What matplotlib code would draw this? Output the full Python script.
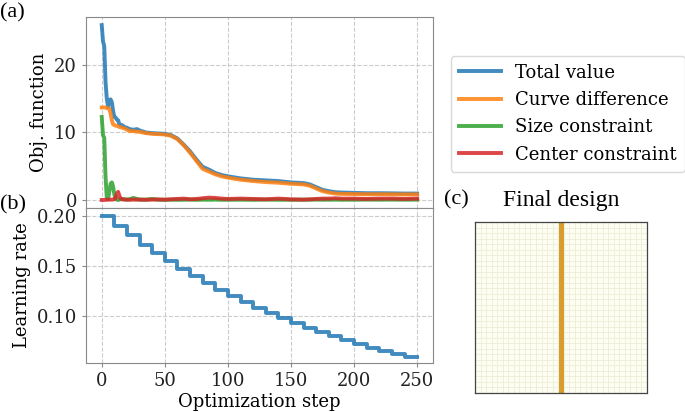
import numpy as np
import matplotlib
matplotlib.use("Agg")
import matplotlib.pyplot as plt
from matplotlib.colors import LinearSegmentedColormap

# ---------------- data ----------------
steps_obj = [0, 1, 2, 3, 4, 5, 6, 7, 8, 9, 10, 11, 12, 13, 14, 15, 16, 18, 20, 22, 25, 28, 30,
             35, 40, 45, 50, 55, 60, 65, 70, 75, 80, 85, 90, 95, 100, 110, 120, 130, 140, 150,
             160, 165, 170, 175, 180, 185, 190, 200, 210, 220, 230, 240, 250]
total_value = [25.9, 23.5, 22.8, 17.5, 15.0, 13.8, 14.8, 14.9, 14.5, 13.2, 12.3, 12.2, 11.9, 11.8,
               11.2, 11.0, 11.1, 10.8, 10.7, 10.5, 10.4, 10.5, 10.3, 10.0, 9.9, 9.85, 9.8, 9.6,
               9.1, 8.2, 7.2, 6.0, 4.9, 4.5, 4.0, 3.7, 3.5, 3.2, 3.0, 2.9, 2.8, 2.6, 2.5, 2.3,
               1.9, 1.5, 1.3, 1.15, 1.1, 1.05, 1.0, 1.0, 0.98, 0.95, 0.95]
curve_difference = [13.7, 13.7, 13.7, 13.7, 13.6, 13.6, 13.5, 12.8, 11.8, 11.2, 11.1, 11.0, 11.0,
                    10.9, 10.8, 10.8, 10.7, 10.6, 10.4, 10.2, 10.2, 10.1, 10.1, 9.9, 9.8, 9.75,
                    9.7, 9.5, 9.0, 8.1, 7.0, 5.8, 4.6, 4.2, 3.8, 3.5, 3.3, 3.0, 2.8, 2.65, 2.55,
                    2.4, 2.3, 2.1, 1.7, 1.3, 1.1, 0.95, 0.9, 0.87, 0.85, 0.85, 0.83, 0.82, 0.82]
size_constraint = [12.3, 9.6, 9.2, 3.5, 0.3, 0.1, 1.2, 2.4, 2.6, 2.0, 0.8, 0.2, 0.05, 0.0, 0.05,
                   0.1, 0.15, 0.1, 0.05, 0.1, 0.3, 0.15, 0.05, 0.05, 0.15, 0.03, 0.02, 0.04, 0.02,
                   0.03, 0.05, 0.02, 0.04, 0.03, 0.05, 0.02, 0.03, 0.04, 0.02, 0.05, 0.03, 0.02,
                   0.04, 0.03, 0.05, 0.03, 0.04, 0.05, 0.03, 0.04, 0.05, 0.04, 0.05, 0.04, 0.05]
center_constraint = [0.0, 0.0, 0.0, 0.02, 0.03, 0.05, 0.05, 0.05, 0.05, 0.08, 0.1, 0.3, 0.9, 1.2,
                     0.6, 0.2, 0.1, 0.05, 0.05, 0.03, 0.05, 0.04, 0.05, 0.03, 0.05, 0.08, 0.05,
                     0.1, 0.15, 0.2, 0.1, 0.15, 0.25, 0.35, 0.3, 0.2, 0.15, 0.2, 0.15, 0.1, 0.2,
                     0.1, 0.05, 0.1, 0.15, 0.2, 0.2, 0.25, 0.2, 0.2, 0.15, 0.2, 0.2, 0.15, 0.2]

lr_steps = [0, 10, 20, 30, 40, 50, 60, 70, 80, 90, 100, 110, 120, 130, 140, 150, 160, 170, 180,
            190, 200, 210, 220, 230, 240, 250]
learning_rate = [0.200, 0.190, 0.181, 0.171, 0.163, 0.155, 0.147, 0.140, 0.133, 0.126, 0.120,
                 0.114, 0.108, 0.103, 0.098, 0.093, 0.088, 0.084, 0.080, 0.076, 0.072, 0.068,
                 0.065, 0.062, 0.059, 0.059]

series_labels = ["Total value", "Curve difference", "Size constraint", "Center constraint"]
series_colors = ["#1f77b4", "#ff7f0e", "#2ca02c", "#d62728"]

design_size = 31
design_column = 15

# ---------------- figure ----------------
plt.rcParams['font.family'] = 'DejaVu Serif'
plt.rcParams['font.size'] = 13

fig = plt.figure(figsize=(6.85, 4.12), dpi=100)

ax1 = fig.add_axes([0.1255, 0.495, 0.5065, 0.4637])
ax2 = fig.add_axes([0.1255, 0.119, 0.5065, 0.376], sharex=ax1)

spine_col = "#8a8a8a"
for ax in (ax1, ax2):
    for s in ax.spines.values():
        s.set_color(spine_col)
    ax.grid(True, linestyle='--', color='#cccccc', linewidth=0.8)
    ax.set_axisbelow(True)
    ax.tick_params(colors='#222222', labelsize=13, length=3, color=spine_col)

all_series = [total_value, curve_difference, size_constraint, center_constraint]
handles = []
for vals, lab, col in zip(all_series, series_labels, series_colors):
    h, = ax1.plot(steps_obj, vals, color=col, lw=2.8, alpha=0.85, label=lab)
    handles.append(h)
ax1.set_ylabel("Obj. function", fontsize=13)
ax1.set_yticks([0, 10, 20])
ax1.tick_params(axis='x', labelbottom=False, length=0)

ax2.step(lr_steps, learning_rate, where='post', color=series_colors[0], lw=2.8, alpha=0.85)
ax2.set_yticks([0.10, 0.15, 0.20])
ax2.set_ylabel("Learning rate", fontsize=13)
ax2.set_xlabel("Optimization step", fontsize=13, labelpad=2)
ax2.set_xticks([0, 50, 100, 150, 200, 250])
ax2.set_xlim(-12.5, 262.5)
ax2.set_ylim(0.0527, 0.2077)
ax1.set_ylim(-1.2, 27.1)

leg = fig.legend(handles=handles, labels=series_labels, loc='center left',
                 bbox_to_anchor=(0.645, 0.724), fontsize=13, frameon=True,
                 handlelength=2.3, borderpad=0.45, labelspacing=0.52)
leg.get_frame().set_edgecolor('#d0d0d0')

# Final design panel
ax3 = fig.add_axes([0.6934, 0.0461, 0.2511, 0.4151])
background = np.zeros((design_size, design_size))
design = np.full((design_size, design_size), np.nan)
design[:, design_column] = 1.0
cmap = LinearSegmentedColormap.from_list("design", ["#fdfdf1", "#d99c2e"])
ax3.imshow(background, cmap=cmap, vmin=0, vmax=1, aspect='auto',
           interpolation='nearest', zorder=0)
ax3.set_xticks([])
ax3.set_yticks([])
ax3.set_xticks(np.arange(-0.5, design_size, 1), minor=True)
ax3.set_yticks(np.arange(-0.5, design_size, 1), minor=True)
ax3.set_axisbelow(False)
ax3.grid(which='minor', color='#eaeed6', linewidth=0.6, zorder=1)
ax3.tick_params(which='both', length=0, labelbottom=False, labelleft=False)
ax3.imshow(np.ma.masked_invalid(design), cmap=cmap, vmin=0, vmax=1, aspect='auto',
           interpolation='nearest', zorder=3)
ax3.set_xlim(-0.5, design_size - 0.5)
ax3.set_ylim(design_size - 0.5, -0.5)
for s in ax3.spines.values():
    s.set_color('#444444')
    s.set_linestyle((0, (2, 1)))
    s.set_linewidth(0.9)
    s.set_zorder(4)

serif = ['Liberation Serif', 'DejaVu Serif']
fig.text(0.0, 0.97, "(a)", family=serif, fontsize=16, ha='left', va='center')
fig.text(0.0, 0.502, "(b)", family=serif, fontsize=16, ha='left', va='center')
fig.text(0.648, 0.514, "(c)", family=serif, fontsize=16, ha='left', va='center')
fig.text(0.819, 0.514, "Final design", family=serif, fontsize=17, ha='center', va='center')

fig.savefig("out.png", dpi=100)
